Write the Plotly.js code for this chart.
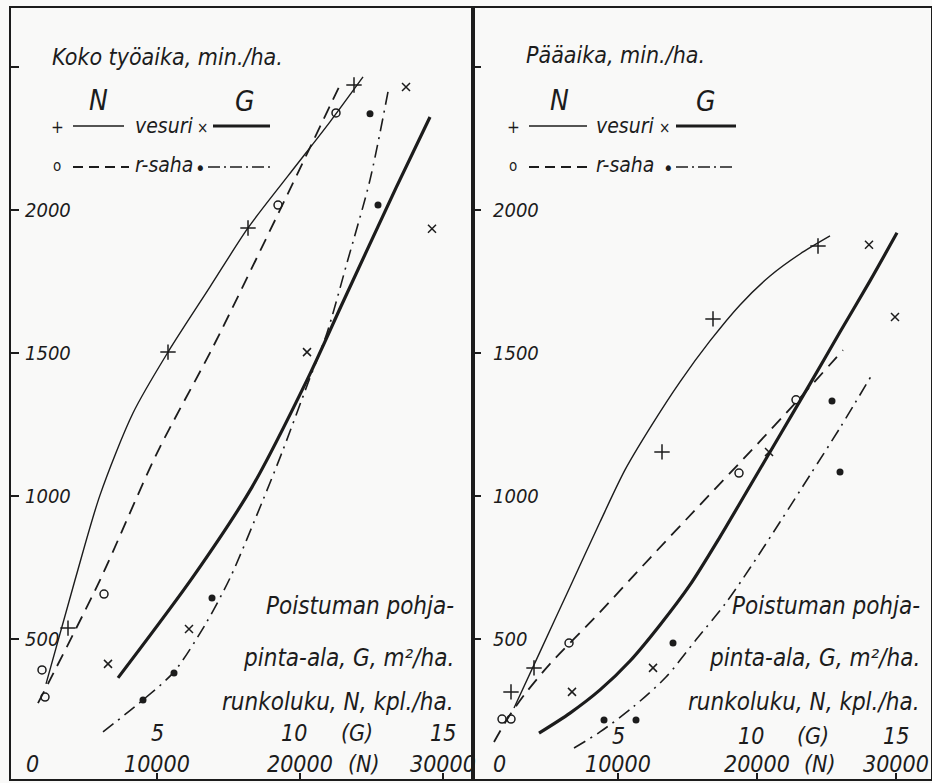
<!DOCTYPE html>
<html>
<head>
<meta charset="utf-8">
<script src="https://cdn.plot.ly/plotly-3.0.1.min.js"></script>
<style>html,body{margin:0;padding:0;background:#f9f9f8;}#chart{width:932px;height:783px;}</style>
</head>
<body>
<div id="chart"></div>
<script>
// ---------- Data: left panel "Koko työaika, min./ha." ----------
// x in runkoluku N (kpl/ha); G (m2/ha) is plotted on the same axis with G*2000 = N
const kokoPlusX  = [3776, 10769, 16364, 23776];
const kokoPlusY  = [538, 1503, 1937, 2437];
const kokoCrossX = [6573, 12238, 20490, 27413, 29231];
const kokoCrossY = [413, 535, 1503, 2430, 1934];
const kokoCircX  = [1958, 2168, 6294, 18462, 22517];
const kokoCircY  = [392, 297, 657, 2017, 2339];
const kokoDotX   = [9021, 11189, 13846, 24895, 25455];
const kokoDotY   = [287, 381, 643, 2336, 2017];

const kokoVesuriNX = [2238, 4266, 6014, 8322, 10769, 13706, 16364, 19161, 22098, 24406];
const kokoVesuriNY = [343, 706, 1003, 1290, 1503, 1731, 1937, 2119, 2308, 2465];
const kokoSahaNX   = [1678, 2517, 6014, 10000, 13916, 18601, 22797];
const kokoSahaNY   = [276, 357, 706, 1150, 1521, 2000, 2437];
const kokoVesuriGX = [7273, 12517, 16643, 20489, 23007, 26713, 29091];
const kokoVesuriGY = [364, 717, 1031, 1405, 1678, 2077, 2325];
const kokoSahaGX   = [6224, 9021, 11189, 13357, 15105, 17413, 18811, 20559, 21888, 23287, 24895, 26154];
const kokoSahaGY   = [175, 287, 385, 549, 713, 986, 1161, 1395, 1570, 1815, 2105, 2413];

// ---------- Data: right panel "Pääaika, min./ha." ----------
const paaPlusX  = [2302, 3957, 13165, 16834, 24388];
const paaPlusY  = [315, 399, 1154, 1619, 1874];
const paaCrossX = [6690, 12518, 20863, 28057, 29927];
const paaCrossY = [315, 399, 1154, 1878, 1626];
const paaCircX  = [1655, 2302, 6475, 18704, 22805];
const paaCircY  = [220, 220, 486, 1080, 1336];
const paaDotX   = [8993, 11295, 13957, 25395, 25971];
const paaDotY   = [217, 217, 486, 1332, 1084];

const paaVesuriNX = [2518, 4388, 6547, 8705, 10503, 12302, 14460, 16618, 18776, 20935, 23093, 25251];
const paaVesuriNY = [259, 455, 682, 909, 1091, 1238, 1399, 1542, 1668, 1769, 1846, 1909];
const paaSahaNX   = [1079, 2086, 3309, 5108, 8705, 12302, 15899, 19496, 23093, 26186];
const paaSahaNY   = [140, 224, 308, 413, 594, 783, 969, 1154, 1343, 1510];
const paaVesuriGX = [4316, 6547, 8705, 10863, 13021, 15179, 17338, 19496, 21654, 23812, 25970, 28129, 30071];
const paaVesuriGY = [171, 241, 322, 423, 549, 689, 857, 1035, 1213, 1392, 1573, 1752, 1920];
const paaSahaGX   = [6834, 8705, 11079, 13453, 15611, 17697, 19496, 21654, 23812, 25970, 28344];
const paaSahaGY   = [119, 175, 262, 367, 497, 622, 748, 909, 1073, 1238, 1430];

// ---------- Ticks / labels ----------
const yTickVals  = [500, 1000, 1500, 2000, 2500];
const yTickText  = ['500', '1000', '1500', '2000', ''];
const nTickVals  = [0, 10000, 20000, 30000];
const nTickText  = ['0', '10000', '20000', '30000'];
const gTickVals  = [5, 10, 15];
const gTickText  = ['5', '10', '15'];
const gToN = 2000;
const titles = ['Koko työaika, min./ha.', 'Pääaika, min./ha.'];
const xTitleLines = ['Poistuman pohja-', 'pinta-ala, G, m²/ha.', 'runkoluku, N, kpl./ha.'];

// ---------- Styling ----------
const INK = '#1c1c1c';
const FAM = "'Liberation Sans Narrow', 'DejaVu Sans Condensed', 'Liberation Sans', sans-serif";
const W = 932, H = 783;
const PX = x => x / W, PY = y => 1 - y / H;

function curve(x, y, xa, ya, width, dash) {
  return {x, y, xaxis: xa, yaxis: ya, mode: 'lines', type: 'scatter',
    line: {color: INK, width, dash, shape: 'spline', smoothing: 0.8},
    hoverinfo: 'skip', showlegend: false};
}
function pts(x, y, xa, ya, symbol, size, lw) {
  return {x, y, xaxis: xa, yaxis: ya, mode: 'markers', type: 'scatter',
    marker: {symbol, size, color: INK, line: {color: INK, width: lw}},
    hoverinfo: 'skip', showlegend: false};
}
const DASH = '13px,8px';
const DASHDOT = '13px,6px,2px,6px';

const traces = [
  curve(kokoVesuriNX, kokoVesuriNY, 'x', 'y', 1.4, 'solid'),
  curve(kokoSahaNX, kokoSahaNY, 'x', 'y', 1.8, DASH),
  curve(kokoVesuriGX, kokoVesuriGY, 'x', 'y', 3.2, 'solid'),
  curve(kokoSahaGX, kokoSahaGY, 'x', 'y', 1.6, DASHDOT),
  pts(kokoPlusX, kokoPlusY, 'x', 'y', 'cross-thin-open', 11, 1.5),
  pts(kokoCrossX, kokoCrossY, 'x', 'y', 'x-thin-open', 8, 1.5),
  pts(kokoCircX, kokoCircY, 'x', 'y', 'circle-open', 8, 1.5),
  pts(kokoDotX, kokoDotY, 'x', 'y', 'circle', 7, 0),

  curve(paaVesuriNX, paaVesuriNY, 'x2', 'y2', 1.4, 'solid'),
  curve(paaSahaNX, paaSahaNY, 'x2', 'y2', 1.8, DASH),
  curve(paaVesuriGX, paaVesuriGY, 'x2', 'y2', 3.2, 'solid'),
  curve(paaSahaGX, paaSahaGY, 'x2', 'y2', 1.6, DASHDOT),
  pts(paaPlusX, paaPlusY, 'x2', 'y2', 'cross-thin-open', 11, 1.5),
  pts(paaCrossX, paaCrossY, 'x2', 'y2', 'x-thin-open', 8, 1.5),
  pts(paaCircX, paaCircY, 'x2', 'y2', 'circle-open', 8, 1.5),
  pts(paaDotX, paaDotY, 'x2', 'y2', 'circle', 7, 0)
];

function xax(domain, range, anchor) {
  return {domain, range, anchor, showgrid: false, zeroline: false, showline: true, mirror: true,
    linecolor: INK, linewidth: 2, ticks: 'inside', ticklen: 6, tickwidth: 1.5, tickcolor: INK,
    tickvals: nTickVals.slice(1), showticklabels: false, fixedrange: true};
}
function yax(domain, range, anchor) {
  return {domain, range, anchor, showgrid: false, zeroline: false, showline: true, mirror: true,
    linecolor: INK, linewidth: 2, ticks: 'inside', ticklen: 8, tickwidth: 1.5, tickcolor: INK,
    tickvals: yTickVals, showticklabels: false, fixedrange: true};
}

const annotations = [];
const shapes = [];
function txt(text, x, y, size, xanchor, style) {
  annotations.push({text, x: PX(x), y: PY(y), xref: 'paper', yref: 'paper',
    xanchor: xanchor || 'center', yanchor: 'middle', showarrow: false,
    font: {family: FAM, size, color: INK, style: style || 'italic'}});
}
function seg(x0, x1, y, width, dash) {
  shapes.push({type: 'line', xref: 'paper', yref: 'paper', x0: PX(x0), x1: PX(x1), y0: PY(y), y1: PY(y),
    line: {color: INK, width, dash}});
}

// pixel anchors for the two panels' legend / caption blocks
const panels = [
  {xa: 'x', ya: 'y', yLabelX: 23, titleX: 50, titleY: 57, nX: 98, gX: 245, plusX: 57, l1: [73, 124], wordX: 133,
   crossX: 202, l2: [213, 270], dotX: 200, l4: [208, 270], rightEdge: 456, gRow: 733, nRow: 764, zeroShift: 10},
  {xa: 'x2', ya: 'y2', yLabelX: 491, titleX: 524, titleY: 55, nX: 559, gX: 706, plusX: 513, l1: [529, 587], wordX: 594,
   crossX: 664, l2: [676, 736], dotX: 668, l4: [676, 736], rightEdge: 922, gRow: 736, nRow: 764, zeroShift: 12}
];
panels.forEach((p, i) => {
  // y tick labels (drawn just right of the axis, at the axis' own data positions)
  yTickVals.forEach((v, k) => {
    if (!yTickText[k]) return;
    annotations.push({text: yTickText[k], x: PX(p.yLabelX), y: v, xref: 'paper', yref: p.ya,
      xanchor: 'left', yanchor: 'middle', showarrow: false,
      font: {family: FAM, size: 20, color: INK, style: 'italic'}});
  });
  txt(titles[i], p.titleX, p.titleY, 23, 'left');
  txt('N', p.nX, 100, 28);
  txt('G', p.gX, 101, 28);
  txt('+', p.plusX, 127, 17, 'center', 'normal');
  seg(p.l1[0], p.l1[1], 126, 1.5, 'solid');
  txt('vesuri', p.wordX, 126, 21, 'left');
  txt('×', p.crossX, 128, 15, 'center', 'normal');
  seg(p.l2[0], p.l2[1], 126, 3, 'solid');
  txt('o', p.plusX, 166, 15, 'center', 'normal');
  seg(p.l1[0], p.l1[1] + 5, 167, 1.8, '10px,6px');
  txt('r-saha', p.wordX, 165, 21, 'left');
  txt('•', p.dotX, 168, 20, 'center', 'normal');
  seg(p.l4[0], p.l4[1], 167, 1.6, '12px,4px,2px,4px');
  // axis caption block (bottom right)
  txt(xTitleLines[0], p.rightEdge, 606, 24, 'right');
  txt(xTitleLines[1], p.rightEdge, 658, 24, 'right');
  txt(xTitleLines[2], p.rightEdge, 702, 24, 'right');
  // x tick labels: G row and N row
  gTickVals.forEach((g, k) => {
    annotations.push({text: gTickText[k], x: g * gToN, y: PY(p.gRow), xref: p.xa, yref: 'paper',
      xanchor: 'center', yanchor: 'middle', showarrow: false, xshift: k === 1 ? -6 : 0,
      font: {family: FAM, size: 23, color: INK, style: 'italic'}});
  });
  annotations.push({text: '(G)', x: 24000, y: PY(p.gRow), xref: p.xa, yref: 'paper',
    xanchor: 'center', yanchor: 'middle', showarrow: false,
    font: {family: FAM, size: 23, color: INK, style: 'italic'}});
  nTickVals.forEach((n, k) => {
    annotations.push({text: nTickText[k], x: n, y: PY(p.nRow), xref: p.xa, yref: 'paper',
      xanchor: k === 0 ? 'left' : 'center', yanchor: 'middle', showarrow: false,
      xshift: k === 0 ? p.zeroShift : 0,
      font: {family: FAM, size: 23, color: INK, style: 'italic'}});
  });
  annotations.push({text: '(N)', x: 24500, y: PY(p.nRow), xref: p.xa, yref: 'paper',
    xanchor: 'center', yanchor: 'middle', showarrow: false,
    font: {family: FAM, size: 23, color: INK, style: 'italic'}});
});

const yDom = [1 - 779 / H, 1 - 8 / H];
const layout = {
  width: W, height: H,
  margin: {l: 0, r: 0, t: 0, b: 0},
  paper_bgcolor: '#f9f9f8', plot_bgcolor: 'rgba(0,0,0,0)',
  showlegend: false,
  xaxis: xax([11 / W, 473 / W], [-210, 32098], 'y'),
  yaxis: yax(yDom, [10.5, 2706], 'x'),
  xaxis2: xax([473 / W, 931 / W], [-432, 32517], 'y2'),
  yaxis2: yax(yDom, [10.5, 2706], 'x2'),
  annotations, shapes
};

Plotly.newPlot('chart', traces, layout, {staticPlot: true, displayModeBar: false});
</script>
</body>
</html>
